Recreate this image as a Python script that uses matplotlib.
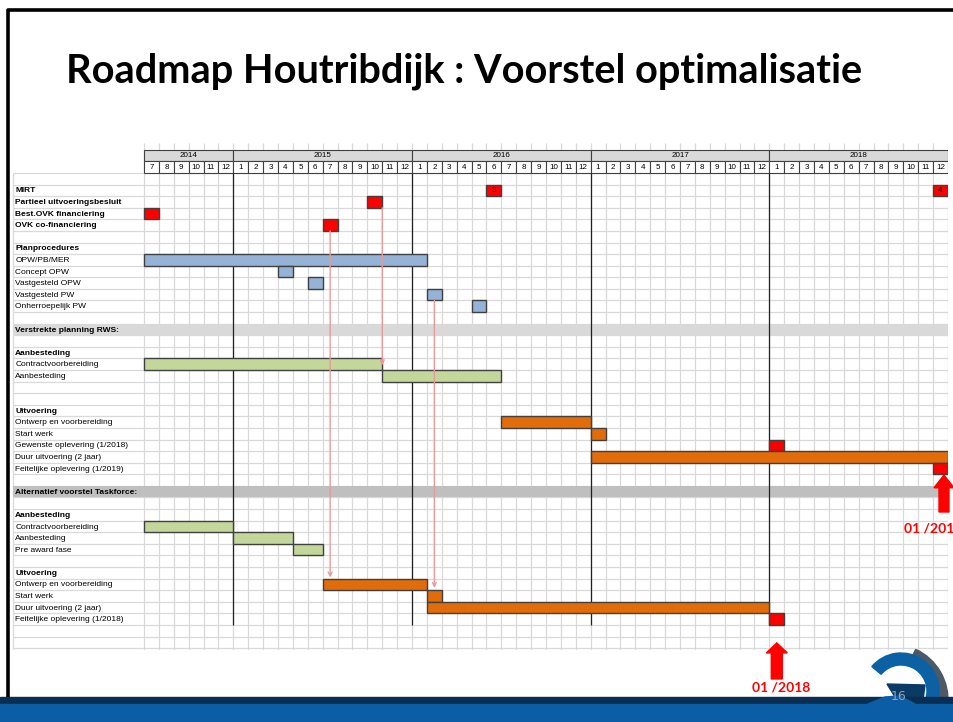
import numpy as np
import matplotlib
matplotlib.use('Agg')
import matplotlib.pyplot as plt
from matplotlib.patches import Rectangle, FancyArrow, Wedge, Polygon

# ---- data ----
title = "Roadmap Houtribdijk : Voorstel optimalisatie"
years = [2014, 2015, 2016, 2017, 2018]
first_month = 7          # planning begint juli 2014

row_labels = ["", "MIRT", "Partieel uitvoeringsbesluit", "Best.OVK financiering", "OVK co-financiering",
              "", "Planprocedures", "OPW/PB/MER", "Concept OPW", "Vastgesteld OPW",
              "Vastgesteld PW", "Onherroepelijk PW", "", "Verstrekte planning RWS:", "",
              "Aanbesteding", "Contractvoorbereiding", "Aanbesteding", "", "",
              "Uitvoering", "Ontwerp en voorbereiding", "Start werk", "Gewenste oplevering (1/2018)",
              "Duur uitvoering (2 jaar)", "Feitelijke oplevering (1/2019)", "",
              "Alternatief voorstel Taskforce:", "", "Aanbesteding", "Contractvoorbereiding",
              "Aanbesteding", "Pre award fase", "", "Uitvoering", "Ontwerp en voorbereiding",
              "Start werk", "Duur uitvoering (2 jaar)", "Feitelijke oplevering (1/2018)"]
bold_rows = [1, 2, 3, 4, 6, 13, 15, 20, 27, 29, 34]
band_rows = [13, 27]
band_colors = ["#d9d9d9", "#bfbfbf"]

task_row = [1, 1, 2, 3, 4, 7, 8, 9, 10, 11, 16, 17, 21, 22, 23, 24, 25,
            30, 31, 32, 35, 36, 37, 38]
task_start = ["2016-06", "2018-12", "2015-10", "2014-07", "2015-07",
              "2014-07", "2015-04", "2015-06", "2016-02", "2016-05",
              "2014-07", "2015-11", "2016-07", "2017-01", "2018-01", "2017-01", "2018-12",
              "2014-07", "2015-01", "2015-05", "2015-07", "2016-02", "2016-02", "2018-01"]
task_len = [1, 1, 1, 1, 1, 19, 1, 1, 1, 1, 16, 8, 6, 1, 1, 24, 1, 6, 4, 2, 7, 1, 23, 1]
task_kind = ["m", "m", "m", "m", "m", "p", "p", "p", "p", "p", "a", "a",
             "u", "u", "m", "u", "m", "a", "a", "a", "u", "u", "u", "m"]
task_text = ["3", "4"] + [""] * 22
kind_color = {"m": "#ff0000", "p": "#95b3d7", "a": "#c4d79b", "u": "#e26b0a"}

# afhankelijkheden: (taak, x-offset in box, eind-rij)
links = [(4, 0.5, 34.9), (2, 1.0, 16.6), (8, 0.5, 35.8)]
# grote pijlen bij de opleverdata
callouts = [(23, "01 /2018"), (16, "01 /201")]


def month_idx(s):
    y, m = s.split("-")
    return (int(y) - years[0]) * 12 + int(m) - first_month


n_months = len(years) * 12 - (first_month - 1)
n_rows = len(row_labels)

W, H = 954, 722
fig = plt.figure(figsize=(W / 100, H / 100), dpi=100)

# ---- slide achtergrond ----
bg = fig.add_axes([0, 0, 1, 1])
bg.set_xlim(0, W)
bg.set_ylim(H, 0)
bg.axis("off")
bg.plot([8.5, 8.5, W], [697, 10, 10], color="black", lw=2.6, solid_capstyle="butt")

t = bg.text(66, 83, title, fontsize=30, fontweight="bold", family="Lato",
            ha="left", va="baseline", color="black")
fig.canvas.draw()
w = t.get_window_extent().width
t.set_fontsize(30 * 796 / w)

# logo
bg.add_patch(Wedge((892, 700), 56, -65, 5, width=10, color="#4d5a66"))
bg.add_patch(Wedge((901, 691), 38, -140, 30, width=12, color="#0b61a4"))
bg.add_patch(Polygon([(887, 684), (925, 685), (923, 700), (905, 706), (895, 697)],
                     closed=True, color="#0a3a66"))
bg.add_patch(Rectangle((0, 697), W, 7, color="#0a2e52"))
bg.add_patch(Rectangle((0, 704), W, 18, color="#0b5ea6"))
bg.add_patch(Polygon([(868, 704), (885, 697), (900, 696), (915, 704)], closed=True, color="#0b5ea6"))
bg.text(899, 696, "16", fontsize=9, color="#9aa3ab", ha="center", va="center")

# ---- gantt ----
ax = fig.add_axes([12 / W, 1 - 650 / H, 936 / W, 507 / H])
ax.set_xlim(-8.87, n_months)
ax.set_ylim(41.16, -2.59)
ax.axis("off")
ax.patch.set_alpha(0)

ax.vlines(np.arange(0, n_months + 1), -2.59, 41.16, color="#d9d9d9", lw=0.9, zorder=1)
ax.vlines(-8.8, 0, 41.16, color="#d9d9d9", lw=0.9, zorder=1)
ax.hlines(np.arange(0, 42), -8.8, n_months, color="#d9d9d9", lw=0.9, zorder=1)

for r, c in zip(band_rows, band_colors):
    ax.add_patch(Rectangle((-8.8, r), n_months + 8.8, 1, color=c, lw=0, zorder=2))

# koppen
x = 0
for y in years:
    n = 12 - (first_month - 1) if y == years[0] else 12
    ax.add_patch(Rectangle((x, -2), n, 1, facecolor="#d9d9d9", edgecolor="#404040", lw=0.8, zorder=3))
    ax.text(x + n / 2, -1.5, str(y), fontsize=5.8, family="Liberation Sans",
            ha="center", va="center", zorder=4)
    m0 = first_month if y == years[0] else 1
    for k in range(n):
        ax.add_patch(Rectangle((x + k, -1), 1, 1, facecolor="white", edgecolor="#404040", lw=0.8, zorder=3))
        ax.text(x + k + 0.5, -0.5, str(m0 + k), fontsize=5.8, family="Liberation Sans",
                ha="center", va="center", zorder=4)
    if x > 0:
        ax.vlines(x, 0, 39, color="#202020", lw=0.9, zorder=3)
    x += n

for i, lab in enumerate(row_labels):
    if lab:
        ax.text(-8.65, i + 0.55, lab, fontsize=6, family="Liberation Sans",
                fontweight="bold" if i in bold_rows else "normal",
                ha="left", va="center", zorder=4)

for r, s, n, k, txt in zip(task_row, task_start, task_len, task_kind, task_text):
    m = month_idx(s)
    ax.add_patch(Rectangle((m, r), n, 1, facecolor=kind_color[k], edgecolor="#404040",
                           lw=1.0, zorder=4))
    if txt:
        ax.text(m + 0.5, r + 0.55, txt, fontsize=5.8, family="Liberation Sans",
                ha="center", va="center", color="#1a0000", zorder=5)

for ti, off, end in links:
    xx = month_idx(task_start[ti]) + off
    ax.annotate("", xy=(xx, end), xytext=(xx, task_row[ti] + 1),
                arrowprops=dict(arrowstyle="->", color="#e89a9a", lw=1.0,
                                shrinkA=0, shrinkB=0, mutation_scale=7), zorder=5)

# grote rode pijlen
m_alt = month_idx(task_start[23]) + 0.5
ax.add_patch(FancyArrow(m_alt, 43.66, 0, -3.11, width=0.74, head_width=1.41, head_length=0.86,
                        length_includes_head=True, color="red", clip_on=False, zorder=6))
ax.text(m_alt + 0.3, 44.4, callouts[0][1], fontsize=10, fontweight="bold", family="Lato",
        color="red", ha="center", va="center", clip_on=False)
m_rws = month_idx(task_start[16]) + 0.73
ax.add_patch(FancyArrow(m_rws, 29.25, 0, -3.19, width=0.67, head_width=1.34, head_length=1.1,
                        length_includes_head=True, color="red", clip_on=False, zorder=6))
ax.text(51.05, 30.7, callouts[1][1], fontsize=10, fontweight="bold", family="Lato",
        color="red", ha="left", va="center", clip_on=False)

fig.savefig("out.png", dpi=100)
